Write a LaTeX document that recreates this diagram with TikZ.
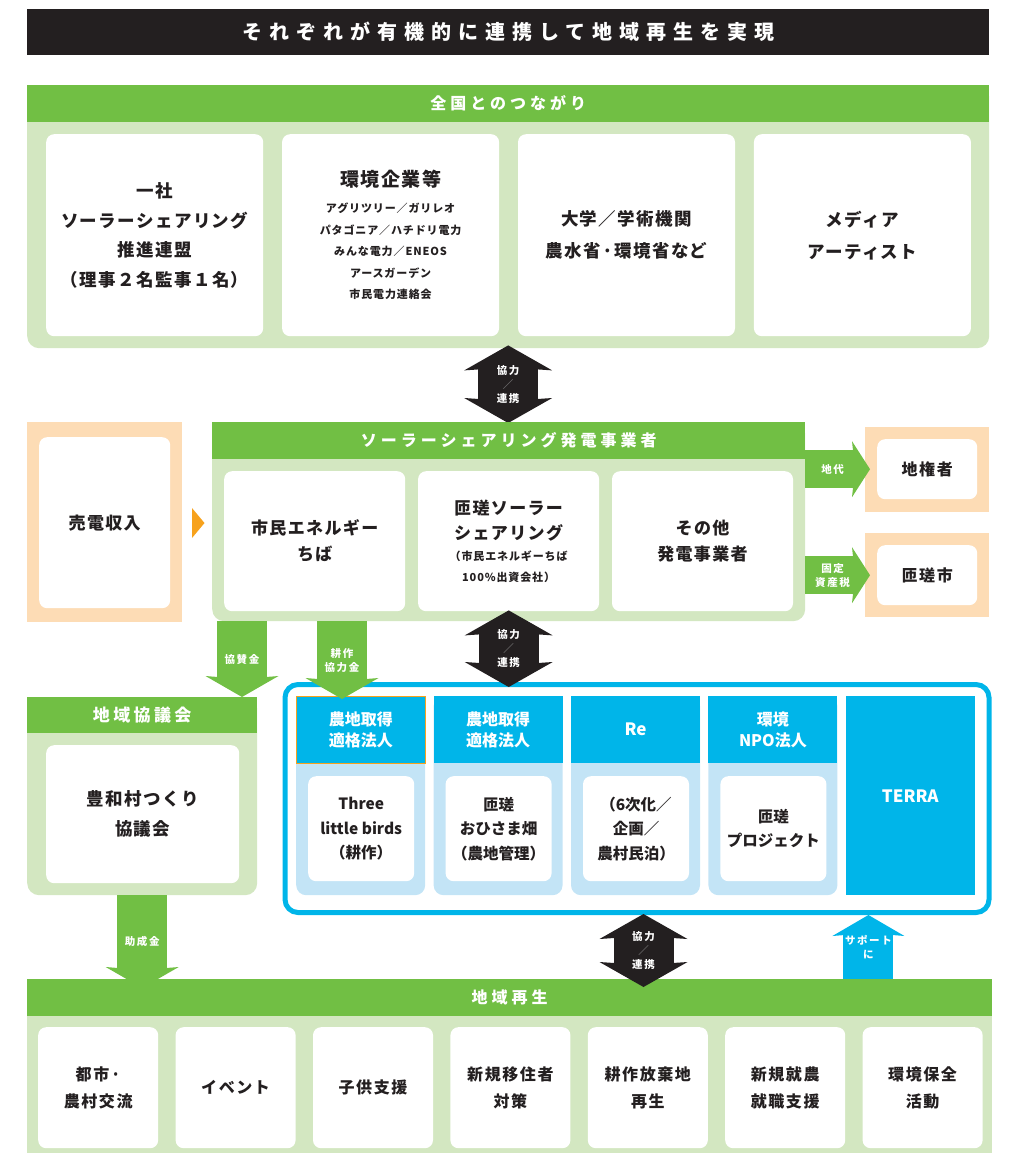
\documentclass[tikz,border=0pt]{standalone}
\usepackage{fontspec}
\setmainfont{Noto Sans CJK JP}
\usetikzlibrary{positioning, arrows.meta, calc}

\definecolor{leaf}{HTML}{71BF44}
\definecolor{leaflight}{HTML}{D3E7C1}
\definecolor{peach}{HTML}{FDDCB5}
\definecolor{amber}{HTML}{F7A21D}
\definecolor{sky}{HTML}{00B5E9}
\definecolor{skylight}{HTML}{C3E4F6}
\definecolor{ink}{HTML}{231F20}

\begin{document}
\begin{tikzpicture}[x=1pt, y=-1pt, node distance=17pt,
    panel/.style={fill=leaflight, rounded corners=12pt, anchor=north west, inner sep=0pt},
    bar/.style={fill=leaf, text=white, anchor=north west, inner sep=0pt, minimum height=37pt,
        font=\fontsize{16}{20}\selectfont\bfseries\addfontfeature{LetterSpace=25}},
    card/.style={fill=white, text=ink, rounded corners=8pt, anchor=north west, inner sep=0pt, align=center,
        font=\fontsize{17}{29.5}\selectfont\bfseries\addfontfeature{LetterSpace=8}},
    natcard/.style={card, minimum width=217pt, minimum height=202pt},
    gencard/.style={card, minimum width=181pt, minimum height=140pt,
        font=\fontsize{17}{26}\selectfont\bfseries\addfontfeature{LetterSpace=8}},
    regencard/.style={card, minimum width=120pt, minimum height=121pt,
        font=\fontsize{16}{26.5}\selectfont\bfseries\addfontfeature{LetterSpace=10}},
    peachbox/.style={fill=peach, anchor=north west, inner sep=0pt},
    colbody/.style={fill=skylight, rounded corners=10pt, anchor=north west, inner sep=0pt,
        minimum width=129pt, minimum height=199pt},
    colhead/.style={fill=sky, text=white, anchor=north west, inner sep=0pt, align=center,
        minimum width=129pt, minimum height=67pt, font=\fontsize{16}{21}\selectfont\bfseries},
    colcard/.style={card, minimum width=106pt, minimum height=105pt,
        font=\fontsize{15.5}{24.5}\selectfont\bfseries},
    lbl/.style={text=white, align=center, font=\fontsize{10.5}{14}\selectfont\bfseries\addfontfeature{LetterSpace=15}},
    duo/.style={draw=ink, line width=60pt,
        {Stealth[width=88pt,length=25pt,inset=3pt,line width=0pt]}-{Stealth[width=88pt,length=25pt,inset=3pt,line width=0pt]}},
    feed/.style={draw=leaf, line width=50pt, -{Stealth[width=73pt,length=21pt,inset=3pt,line width=0pt]}},
    pay/.style={draw=leaf, line width=38pt, -{Stealth[width=56pt,length=18pt,inset=3pt,line width=0pt]}},
    lift/.style={draw=sky, line width=50pt, -{Stealth[width=72pt,length=21pt,inset=3pt,line width=0pt]}}]
    \useasboundingbox (0,0) rectangle (1011,1153);

    % タイトル
    \node (title) [fill=ink, text=white, anchor=north west, inner sep=0pt, minimum width=962pt, minimum height=46pt,
        font=\fontsize{20}{24}\selectfont\bfseries\addfontfeature{LetterSpace=35}] at (27,9) {それぞれが有機的に連携して地域再生を実現};

    % 全国とのつながり
    \node (natpanel) [panel, minimum width=962pt, minimum height=263pt] at (27,85) {};
    \node (natbar) [bar, minimum width=962pt] at (27,85) {全国とのつながり};
    \node (nat1) [natcard, font=\fontsize{17.5}{29.5}\selectfont\bfseries\addfontfeature{LetterSpace=8}] at (46,134)
        {一社\\ソーラーシェアリング\\推進連盟\\（理事２名監事１名）};
    \node (nat2) [natcard, text width=210pt, right=18.5pt of nat1]
        {{\fontsize{19}{28}\selectfont 環境企業等\par}\vspace{4.5pt}
         {\fontsize{11}{21.5}\selectfont アグリツリー／ガリレオ\\パタゴニア／ハチドリ電力\\みんな電力／ENEOS\\アースガーデン\\市民電力連絡会\par}};
    \node (nat3) [natcard, font=\fontsize{17.5}{32}\selectfont\bfseries\addfontfeature{LetterSpace=8}, right=18.5pt of nat2]
        {大学／学術機関\\農水省·環境省など};
    \node (nat4) [natcard, font=\fontsize{17.5}{32}\selectfont\bfseries\addfontfeature{LetterSpace=8}, right=18.5pt of nat3]
        {メディア\\アーティスト};

    \draw[duo] ([yshift=3pt]natpanel.south) -- ([yshift=-1pt]natpanel.south |- 0,422)
        node[midway, lbl] {協力\\{\color{gray}／}\\連携};

    % 売電収入
    \node (saleframe) [peachbox, minimum width=155pt, minimum height=200pt] at (27,422) {};
    \node (sale) [card, minimum width=131pt, minimum height=171pt] at (39,437) {売電収入};
    \fill[amber] (192,508) -- (204.5,523) -- (192,538) -- cycle;

    % ソーラーシェアリング発電事業者
    \node (genpanel) [panel, minimum width=593pt, minimum height=199pt] at (212,422) {};
    \node (genbar) [bar, minimum width=593pt] at (212,422) {ソーラーシェアリング発電事業者};
    \node (gen1) [gencard] at (224,471) {市民エネルギー\\ちば};
    \node (gen2) [gencard, text width=176pt, right=12.5pt of gen1]
        {{\fontsize{17}{25}\selectfont 匝瑳ソーラー\\シェアリング\par}
         {\fontsize{11}{21}\selectfont （市民エネルギーちば\\100\%出資会社）\par}};
    \node (gen3) [gencard, right=12.5pt of gen2] {その他\\発電事業者};

    % 地権者・匝瑳市
    \node (landframe) [peachbox, minimum width=124pt, minimum height=85pt] at (865,427) {};
    \node (land) [card, minimum width=100pt, minimum height=60pt, font=\fontsize{16}{20}\selectfont\bfseries\addfontfeature{LetterSpace=10}] at (877,439) {地権者};
    \node (cityframe) [peachbox, minimum width=124pt, minimum height=84pt] at (865,533) {};
    \node (city) [card, minimum width=100pt, minimum height=60pt, font=\fontsize{16}{20}\selectfont\bfseries\addfontfeature{LetterSpace=10}] at (877,545) {匝瑳市};
    \draw[pay] (genpanel.east |- land) -- ([xshift=-7pt]land.west) node[pos=0.42, lbl] {地代};
    \draw[pay] (genpanel.east |- city) -- ([xshift=-7pt]city.west) node[pos=0.42, lbl] {固定\\資産税};

    % 地域協議会
    \node (councilpanel) [panel, minimum width=230pt, minimum height=198pt] at (27,697) {};
    \node (councilbar) [bar, minimum width=230pt, minimum height=36pt,
        font=\fontsize{17}{20}\selectfont\bfseries\addfontfeature{LetterSpace=20}] at (27,697) {地域協議会};
    \node (council) [card, minimum width=193pt, minimum height=138pt,
        font=\fontsize{17.5}{30}\selectfont\bfseries\addfontfeature{LetterSpace=8}] at (46,745) {豊和村つくり\\協議会};

    % 連携する団体
    \node (orgs) [draw=sky, line width=5pt, rounded corners=13pt, anchor=north west, inner sep=0pt,
        minimum width=704pt, minimum height=228pt] at (282.5,682) {};
    \node (col1) [colbody] at (296,696) {};
    \node (col2) [colbody, right=8pt of col1] {};
    \node (col3) [colbody, right=8pt of col2] {};
    \node (col4) [colbody, right=8pt of col3] {};
    \node (terra) [colhead, minimum height=199pt, font=\fontsize{17}{21}\selectfont\bfseries, right=8pt of col4] {TERRA};
    \node (head1) [colhead, draw=amber, line width=0.8pt] at (col1.north west) {農地取得\\適格法人};
    \node (head2) [colhead] at (col2.north west) {農地取得\\適格法人};
    \node (head3) [colhead, font=\fontsize{17}{21}\selectfont\bfseries] at (col3.north west) {Re};
    \node (head4) [colhead] at (col4.north west) {環境\\NPO法人};
    \node (org1) [colcard] at ($(col1.north west)+(12,80)$) {Three\\little birds\\（耕作）};
    \node (org2) [colcard] at ($(col2.north west)+(12,80)$) {匝瑳\\おひさま畑\\（農地管理）};
    \node (org3) [colcard] at ($(col3.north west)+(12,80)$) {（6次化／\\企画／\\農村民泊）};
    \node (org4) [colcard] at ($(col4.north west)+(12,80)$) {匝瑳\\プロジェクト};

    % 地域再生
    \node (regenpanel) [fill=leaflight, anchor=north west, inner sep=0pt, minimum width=965pt, minimum height=174pt] at (27,979) {};
    \node (regenbar) [bar, minimum width=965pt] at (27,979) {地域再生};
    \node (regen1) [regencard] at (38,1027) {都市·\\農村交流};
    \node (regen2) [regencard, right=of regen1] {イベント};
    \node (regen3) [regencard, right=of regen2] {子供支援};
    \node (regen4) [regencard, right=of regen3] {新規移住者\\対策};
    \node (regen5) [regencard, right=of regen4] {耕作放棄地\\再生};
    \node (regen6) [regencard, right=of regen5] {新規就農\\就職支援};
    \node (regen7) [regencard, right=of regen6] {環境保全\\活動};

    % 資金の流れ
    \coordinate (sponsortop) at ($(genpanel.south west)+(30,0)$);
    \coordinate (farmtop) at ($(genpanel.south west)+(130,0)$);
    \draw[feed] (sponsortop) -- (sponsortop |- councilbar.north) node[midway, lbl] {協賛金};
    \draw[feed] (farmtop) -- ($(farmtop |- head1.north)+(0,3)$) node[midway, lbl] {耕作\\協力金};
    \draw[feed] (councilpanel.south) -- ($(councilpanel.south |- regenbar.north)+(0,9)$) node[midway, lbl] {助成金};

    % 協力／連携
    \coordinate (coop2top) at ([yshift=11pt]genpanel.south);
    \coordinate (coop2bot) at ($(coop2top |- orgs.north)+(0,5)$);
    \draw[duo] (coop2top) -- (coop2bot) node[midway, lbl] {協力\\{\color{gray}／}\\連携};
    \coordinate (coop3top) at ($(orgs.south)+(6.5,-1)$);
    \coordinate (coop3bot) at ($(coop3top |- regenbar.north)+(0,8)$);
    \draw[duo] (coop3top) -- (coop3bot) node[midway, lbl] {協力\\{\color{gray}／}\\連携};

    \coordinate (liftfoot) at ($(regenbar.north east)+(-124,0)$);
    \draw[lift] (liftfoot) -- (liftfoot |- orgs.south) node[midway, lbl] {サポート\\に};
\end{tikzpicture}
\end{document}
